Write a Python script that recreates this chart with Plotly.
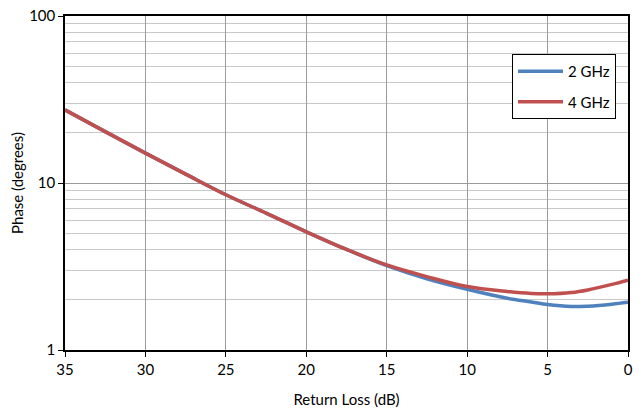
import plotly.graph_objects as go

return_loss = [35, 32.5, 30, 27.5, 25, 22.5, 20, 17.5, 15, 12.5, 10, 7.5, 6, 5, 3.5, 2.5, 1, 0]
phase_2ghz = [27.4, 20.3, 15.1, 11.3, 8.5, 6.6, 5.1, 4.0, 3.2, 2.67, 2.31, 2.04, 1.94, 1.87, 1.82, 1.83, 1.88, 1.93]
phase_4ghz = [27.4, 20.3, 15.1, 11.3, 8.5, 6.6, 5.1, 4.0, 3.23, 2.75, 2.40, 2.24, 2.18, 2.17, 2.21, 2.29, 2.47, 2.62]
series_names = ["2 GHz", "4 GHz"]
series_colors = ["#4F81BD", "#C0504D"]

y_major = [1, 10, 100]
y_minor = [2, 3, 4, 5, 6, 7, 8, 9, 20, 30, 40, 50, 60, 70, 80, 90]
x_ticks = [35, 30, 25, 20, 15, 10, 5, 0]

fig = go.Figure()
for name, vals, col in zip(series_names, [phase_2ghz, phase_4ghz], series_colors):
    fig.add_trace(go.Scatter(x=return_loss, y=vals, name=name, mode="lines", legendgroup=name,
                             line=dict(color=col, width=3.5, shape="spline", smoothing=1.0)))

font_family = "Lato, 'Open Sans', sans-serif"
fig.update_layout(
    width=641, height=410,
    margin=dict(l=65, r=13, t=16, b=60, autoexpand=False),
    paper_bgcolor="white", plot_bgcolor="white",
    font=dict(family=font_family, size=15, color="black"),
    showlegend=True,
    legend=dict(x=0.794, y=0.886, xanchor="left", yanchor="top",
                bordercolor="black", borderwidth=1, bgcolor="white",
                font=dict(size=15), itemwidth=45, traceorder="grouped", tracegroupgap=8),
    xaxis=dict(range=[35, 0], tickvals=x_ticks, ticktext=[str(v) for v in x_ticks],
               showgrid=True, gridcolor="#9a9a9a", gridwidth=1,
               showline=True, linecolor="black", linewidth=1.5, mirror=True,
               ticks="outside", ticklen=5, tickcolor="black", automargin=False,
               ticklabeloverflow="allow",
               title=dict(text="Return Loss (dB)", font=dict(size=15), standoff=18),
               zeroline=False),
    yaxis=dict(type="log", range=[0, 2], tickvals=y_major, ticktext=["1", "10", "100"],
               showgrid=True, gridcolor="#9a9a9a", gridwidth=1,
               showline=True, linecolor="black", linewidth=1.5, mirror=True,
               ticks="outside", ticklen=5, tickcolor="black", automargin=False,
               ticklabeloverflow="allow",
               minor=dict(tickvals=y_minor, showgrid=True, gridcolor="#c8c8c8", gridwidth=1, ticks=""),
               title=dict(text="Phase (degrees)", font=dict(size=15), standoff=2),
               zeroline=False),
)
fig.write_html("out.html", config={"displayModeBar": False},
               post_script="document.body.style.margin='0';")
